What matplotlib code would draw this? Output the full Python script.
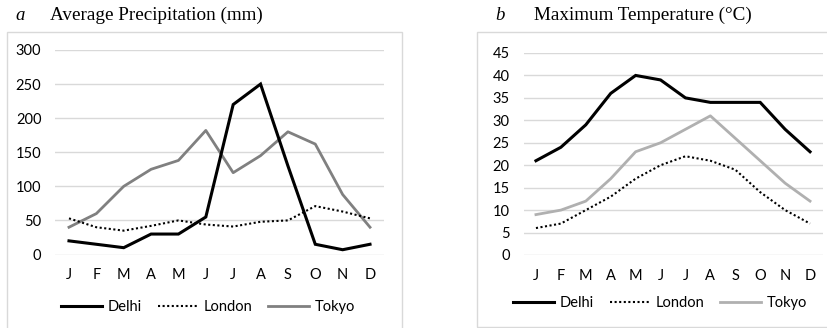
import matplotlib
matplotlib.use("Agg")
import matplotlib.pyplot as plt
from matplotlib.patches import Rectangle
from matplotlib.lines import Line2D

months = ["J", "F", "M", "A", "M", "J", "J", "A", "S", "O", "N", "D"]
cities = ["Delhi", "London", "Tokyo"]

precip_delhi = [20, 15, 10, 30, 30, 55, 220, 250, 130, 15, 7, 15]
precip_london = [53, 40, 35, 42, 50, 44, 41, 48, 50, 71, 63, 53]
precip_tokyo = [40, 60, 100, 125, 138, 182, 120, 145, 180, 162, 88, 40]

temp_delhi = [21, 24, 29, 36, 40, 39, 35, 34, 34, 34, 28, 23]
temp_london = [6, 7, 10, 13, 17, 20, 22, 21, 19, 14, 10, 7]
temp_tokyo = [9, 10, 12, 17, 23, 25, 28, 31, 26, 21, 16, 12]

precip_ticks = [0, 50, 100, 150, 200, 250, 300]
temp_ticks = [0, 5, 10, 15, 20, 25, 30, 35, 40, 45]

W, H = 827, 328
fig = plt.figure(figsize=(W / 100, H / 100), dpi=100)
plt.rcParams['font.family'] = ['Lato', 'DejaVu Sans']

GRID = "#d9d9d9"
SANS = ['Lato', 'DejaVu Sans']
SERIF = ['Liberation Serif', 'DejaVu Serif']


def px_rect(x0, y0, x1, y1):
    return [x0 / W, 1 - y1 / H, (x1 - x0) / W, (y1 - y0) / H]


def frame(x0, y0, x1, y1):
    r = Rectangle((x0 / W, 1 - y1 / H), (x1 - x0) / W, (y1 - y0) / H,
                  transform=fig.transFigure, fill=False, edgecolor=GRID,
                  linewidth=1.0, zorder=0)
    fig.patches.append(r)


def panel(rect, delhi, london, tokyo, ticks, tokyo_color, legend_y, legend_x):
    ax = fig.add_axes(rect)
    x = list(range(len(months)))
    ax.plot(x, delhi, color="black", lw=2.2, solid_joinstyle="miter", zorder=3)
    ax.plot(x, london, color="black", lw=1.5, linestyle=(0, (1, 1.2)), zorder=3)
    ax.plot(x, tokyo, color=tokyo_color, lw=2.0, zorder=2)
    ax.set_xlim(-0.5, 11.5)
    ax.set_ylim(ticks[0], ticks[-1])
    ax.set_yticks(ticks)
    ax.set_xticks(x)
    ax.set_xticklabels(months)
    for s in ax.spines.values():
        s.set_visible(False)
    ax.grid(axis="y", color=GRID, lw=1.0)
    ax.set_axisbelow(True)
    ax.tick_params(axis="both", length=0, labelsize=10.5, colors="black")
    ax.tick_params(axis="y", pad=10)
    ax.tick_params(axis="x", pad=10)
    for lab in ax.get_xticklabels() + ax.get_yticklabels():
        lab.set_family(SANS)
    handles = [
        Line2D([], [], color="black", lw=2.2),
        Line2D([], [], color="black", lw=1.5, linestyle=(0, (1, 1.2))),
        Line2D([], [], color=tokyo_color, lw=2.0),
    ]
    fig.legend(handles, cities, loc="center", ncol=3,
               bbox_to_anchor=(legend_x / W, 1 - legend_y / H),
               frameon=False, handlelength=2.8, handletextpad=0.35,
               columnspacing=1.1, prop={'family': SANS, 'size': 10.5})
    return ax


frame(7, 32, 402, 340)
frame(477, 32, 840, 327)

panel(px_rect(55.3, 50, 383.7, 254.5), precip_delhi, precip_london, precip_tokyo,
      precip_ticks, "#808080", 307, 208)
panel(px_rect(523.5, 53, 822.5, 255), temp_delhi, temp_london, temp_tokyo,
      temp_ticks, "#b0b0b0", 303, 660)

fig.text(20 / W, 1 - 15 / H, "a", family=SERIF, style="italic", fontsize=13.5,
         ha="center", va="center")
fig.text(50 / W, 1 - 15 / H, "Average Precipitation (mm)", family=SERIF,
         fontsize=13.8, ha="left", va="center")
fig.text(500 / W, 1 - 15 / H, "b", family=SERIF, style="italic", fontsize=13.5,
         ha="center", va="center")
fig.text(534 / W, 1 - 15 / H, "Maximum Temperature (°C)", family=SERIF,
         fontsize=13.8, ha="left", va="center")

fig.savefig("out.png", dpi=100, facecolor="white")
